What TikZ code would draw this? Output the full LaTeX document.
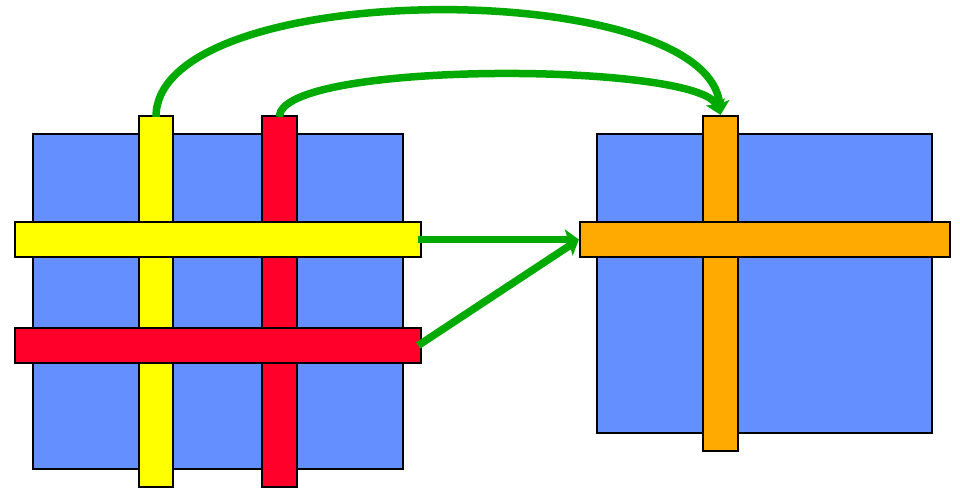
\documentclass[tikz,border=0pt]{standalone}
\usetikzlibrary{arrows.meta}
\definecolor{bgblue}{RGB}{99,143,255}
\definecolor{byellow}{RGB}{255,255,0}
\definecolor{bred}{RGB}{255,0,43}
\definecolor{borange}{RGB}{255,170,0}
\definecolor{agreen}{RGB}{0,170,0}
\tikzset{
  block/.style={draw=black, line width=2.2pt, rectangle, inner sep=0pt, minimum width=#1},
  flow/.style={draw=agreen, line width=7.5pt, -{Stealth[length=14pt,width=20pt,inset=3pt]}}
}
\begin{document}
\begin{tikzpicture}[x=1pt,y=-1pt]
\useasboundingbox (0,0) rectangle (960,489);
% left group
\node[block=370pt, minimum height=335pt, fill=bgblue] (lsq) at (218,301.5) {};
\node[block=34pt, minimum height=371pt, fill=byellow] (yv) at (156,301.5) {};
\node[block=35pt, minimum height=371pt, fill=bred] (rv) at (279.5,301.5) {};
\node[block=406pt, minimum height=35pt, fill=byellow] (yh) at (218,239.5) {};
\node[block=406pt, minimum height=35pt, fill=bred] (rh) at (218,345.5) {};
% right group
\node[block=335pt, minimum height=299pt, fill=bgblue] (rsq) at (764.5,283.5) {};
\node[block=35pt, minimum height=335pt, fill=borange] (ov) at (720.5,283.5) {};
\node[block=370pt, minimum height=35pt, fill=borange] (oh) at (765,239.5) {};
% connectors
\draw[flow] ([xshift=-4pt]yh.east) -- (oh.west);
\draw[flow] ([xshift=-4pt]rh.east) -- (oh.west);
\draw[flow] ([yshift=-2pt]yv.north) .. controls (156,-24) and (709,-24) .. (ov.north);
\draw[flow] ([yshift=-2pt]rv.north) .. controls (279,60) and (700,62) .. (ov.north);
\end{tikzpicture}
\end{document}
